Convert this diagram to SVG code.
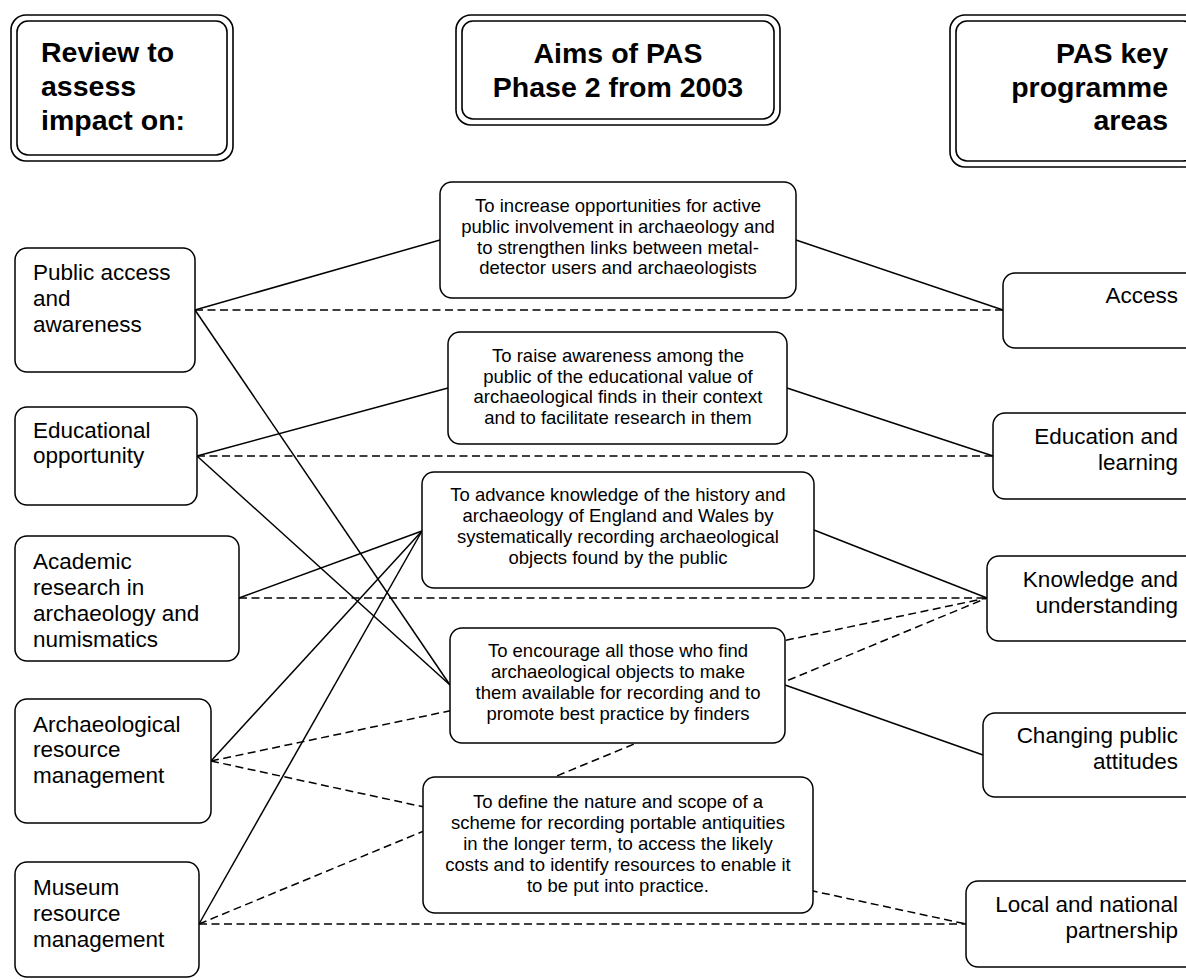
<svg xmlns="http://www.w3.org/2000/svg" width="1186" height="980" viewBox="0 0 1186 980">
<style>
.bg{fill:#fff}
.hdr-o,.hdr-i{fill:#fff;stroke:#000;stroke-width:1.6}
.hdr-i{fill:none}
.box{fill:#fff;stroke:#000;stroke-width:1.5}
.h{font-family:"Liberation Sans",Arial,sans-serif;font-weight:bold;font-size:28.5px;fill:#000}
.t{font-family:"Liberation Sans",Arial,sans-serif;font-size:22.5px;fill:#000}
.m{font-family:"Liberation Sans",Arial,sans-serif;font-size:18.5px;fill:#000;text-anchor:middle}
.r{text-anchor:end}
.c{text-anchor:middle}
.sol{stroke:#000;stroke-width:1.5;fill:none}
.dsh{stroke:#000;stroke-width:1.5;fill:none;stroke-dasharray:8 4.5}
</style>
<rect class="bg" x="0" y="0" width="1186" height="980"/>

<g id="connectors">
  <line class="sol" x1="195" y1="310" x2="440" y2="240"/>
  <line class="sol" x1="796" y1="240" x2="1003" y2="310"/>
  <line class="sol" x1="195" y1="310" x2="450" y2="685"/>
  <line class="sol" x1="197" y1="456" x2="448" y2="388"/>
  <line class="sol" x1="787" y1="388" x2="993" y2="456"/>
  <line class="sol" x1="197" y1="456" x2="450" y2="685"/>
  <line class="sol" x1="239" y1="598" x2="422" y2="531"/>
  <line class="sol" x1="814" y1="530" x2="987" y2="598"/>
  <line class="sol" x1="422" y1="531" x2="211" y2="761"/>
  <line class="sol" x1="422" y1="531" x2="199" y2="924"/>
  <line class="sol" x1="785" y1="685" x2="983" y2="755"/>
  <line class="dsh" x1="195" y1="310" x2="1003" y2="310"/>
  <line class="dsh" x1="197" y1="456" x2="993" y2="456"/>
  <line class="dsh" x1="239" y1="598" x2="987" y2="598"/>
  <line class="dsh" x1="211" y1="761" x2="987" y2="598"/>
  <line class="dsh" x1="199" y1="924" x2="987" y2="598"/>
  <line class="dsh" x1="211" y1="761" x2="966" y2="924"/>
  <line class="dsh" x1="199" y1="924" x2="966" y2="924"/>
</g>

<g id="hdr-review">
  <rect class="hdr-o" x="11" y="15" width="222" height="146" rx="15"/>
  <rect class="hdr-i" x="17" y="21" width="210" height="134" rx="11"/>
  <text class="h" x="41" y="62">Review to</text>
  <text class="h" x="41" y="96">assess</text>
  <text class="h" x="41" y="130">impact on:</text>
</g>
<g id="hdr-aims">
  <rect class="hdr-o" x="456" y="15" width="324" height="110" rx="15"/>
  <rect class="hdr-i" x="462" y="21" width="312" height="98" rx="11"/>
  <text class="h c" x="618" y="63">Aims of PAS</text>
  <text class="h c" x="618" y="97">Phase 2 from 2003</text>
</g>
<g id="hdr-pas">
  <rect class="hdr-o" x="950" y="15" width="250" height="152" rx="15"/>
  <rect class="hdr-i" x="956" y="21" width="238" height="140" rx="11"/>
  <text class="h r" x="1168" y="63">PAS key</text>
  <text class="h r" x="1168" y="97">programme</text>
  <text class="h r" x="1168" y="130">areas</text>
</g>

<g id="n-public">
  <rect class="box" x="15" y="248" width="180" height="124" rx="12"/>
  <text class="t" x="33" y="280">Public access</text>
  <text class="t" x="33" y="306">and</text>
  <text class="t" x="33" y="332">awareness</text>
</g>
<g id="n-educational">
  <rect class="box" x="15" y="407" width="182" height="98" rx="12"/>
  <text class="t" x="33" y="438">Educational</text>
  <text class="t" x="33" y="463">opportunity</text>
</g>
<g id="n-academic">
  <rect class="box" x="15" y="536" width="224" height="125" rx="12"/>
  <text class="t" x="33" y="569">Academic</text>
  <text class="t" x="33" y="595">research in</text>
  <text class="t" x="33" y="621">archaeology and</text>
  <text class="t" x="33" y="647">numismatics</text>
</g>
<g id="n-archres">
  <rect class="box" x="15" y="699" width="196" height="124" rx="12"/>
  <text class="t" x="33" y="732">Archaeological</text>
  <text class="t" x="33" y="757">resource</text>
  <text class="t" x="33" y="783">management</text>
</g>
<g id="n-museum">
  <rect class="box" x="15" y="862" width="184" height="115" rx="12"/>
  <text class="t" x="33" y="895">Museum</text>
  <text class="t" x="33" y="921">resource</text>
  <text class="t" x="33" y="947">management</text>
</g>

<g id="a-1">
  <rect class="box" x="440" y="182" width="356" height="116" rx="12"/>
  <text class="m" x="618" y="212">To increase opportunities for active</text>
  <text class="m" x="618" y="233">public involvement in archaeology and</text>
  <text class="m" x="618" y="254">to strengthen links between metal-</text>
  <text class="m" x="618" y="274">detector users and archaeologists</text>
</g>
<g id="a-2">
  <rect class="box" x="448" y="332" width="339" height="112" rx="12"/>
  <text class="m" x="618" y="362">To raise awareness among the</text>
  <text class="m" x="618" y="383">public of the educational value of</text>
  <text class="m" x="618" y="403">archaeological finds in their context</text>
  <text class="m" x="618" y="424">and to facilitate research in them</text>
</g>
<g id="a-3">
  <rect class="box" x="422" y="472" width="392" height="116" rx="12"/>
  <text class="m" x="618" y="501">To advance knowledge of the history and</text>
  <text class="m" x="618" y="522">archaeology of England and Wales by</text>
  <text class="m" x="618" y="543">systematically recording archaeological</text>
  <text class="m" x="618" y="564">objects found by the public</text>
</g>
<g id="a-4">
  <rect class="box" x="450" y="628" width="335" height="115" rx="12"/>
  <text class="m" x="618" y="657">To encourage all those who find</text>
  <text class="m" x="618" y="678">archaeological objects to make</text>
  <text class="m" x="618" y="699">them available for recording and to</text>
  <text class="m" x="618" y="720">promote best practice by finders</text>
</g>
<g id="a-5">
  <rect class="box" x="423" y="777" width="390" height="136" rx="12"/>
  <text class="m" x="618" y="808">To define the nature and scope of a</text>
  <text class="m" x="618" y="829">scheme for recording portable antiquities</text>
  <text class="m" x="618" y="850">in the longer term, to access the likely</text>
  <text class="m" x="618" y="871">costs and to identify resources to enable it</text>
  <text class="m" x="618" y="892">to be put into practice.</text>
</g>

<g id="k-access">
  <rect class="box" x="1003" y="273" width="196" height="75" rx="12"/>
  <text class="t r" x="1178" y="303">Access</text>
</g>
<g id="k-education">
  <rect class="box" x="993" y="413" width="206" height="86" rx="12"/>
  <text class="t r" x="1178" y="444">Education and</text>
  <text class="t r" x="1178" y="470">learning</text>
</g>
<g id="k-knowledge">
  <rect class="box" x="987" y="556" width="212" height="85" rx="12"/>
  <text class="t r" x="1178" y="587">Knowledge and</text>
  <text class="t r" x="1178" y="613">understanding</text>
</g>
<g id="k-changing">
  <rect class="box" x="983" y="713" width="216" height="84" rx="12"/>
  <text class="t r" x="1178" y="743">Changing public</text>
  <text class="t r" x="1178" y="769">attitudes</text>
</g>
<g id="k-local">
  <rect class="box" x="966" y="881" width="233" height="86" rx="12"/>
  <text class="t r" x="1178" y="912">Local and national</text>
  <text class="t r" x="1178" y="938">partnership</text>
</g>
</svg>
